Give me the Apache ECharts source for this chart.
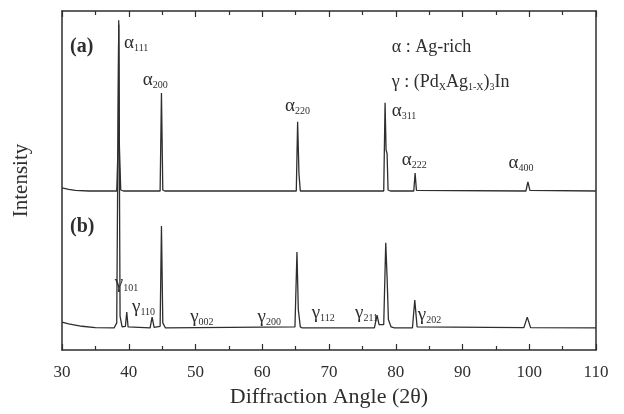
<!DOCTYPE html>
<html>
<head>
<meta charset="utf-8">
<script src="https://cdn.jsdelivr.net/npm/echarts@6/dist/echarts.min.js"></script>
<style>
  html, body { margin: 0; padding: 0; background: #fff; }
  #main { width: 624px; height: 414px; }
</style>
</head>
<body>
<div id="main"></div>
<script>
// x ticks
var xTicks = [30, 40, 50, 60, 70, 80, 90, 100, 110];

// trace (a), offset upwards: [2theta, intensity]
var traceA = [
    [30, 47.8], [31, 47.4], [32, 47.1], [34, 46.9], [38.2, 46.9], [38.4, 60], [38.5, 97.3], [38.6, 60], [38.8, 47.2], [39.2, 46.9],
    [44.7, 46.9], [44.9, 75.8], [45.1, 47.2], [45.4, 46.9],
    [65.1, 46.9], [65.3, 67.3], [65.5, 52], [65.7, 46.9],
    [78.2, 46.9], [78.4, 72.9], [78.55, 59], [78.7, 58], [78.85, 47.2], [79.2, 46.9],
    [82.7, 46.9], [82.9, 52.2], [83.1, 47.1],
    [99.5, 46.9], [99.8, 49.6], [100.1, 47.1], [110, 46.9]
];

// trace (b)
var traceB = [
    [30, 8.2], [31, 7.7], [33, 7.0], [35, 6.6], [37.8, 6.5], [38.2, 8], [38.5, 96], [38.7, 10], [39.0, 6.8], [39.5, 7], [39.7, 11.2], [39.9, 6.8],
    [43.2, 6.5], [43.5, 9.7], [43.8, 6.7], [44.7, 7], [44.9, 36.6], [45.1, 8], [45.5, 6.5],
    [64.9, 6.8], [65.2, 28.9], [65.4, 12], [65.7, 6.8], [66, 6.5],
    [76.8, 6.5], [77.2, 10.3], [77.5, 7.5], [78.2, 7.5], [78.5, 31.6], [78.7, 21.5], [78.9, 9], [79.3, 6.8], [79.8, 6.5],
    [82.5, 6.5], [82.85, 14.7], [83.2, 6.8],
    [99.2, 6.6], [99.7, 9.7], [100.2, 6.6], [110, 6.5]
];

// peak labels: [letter, index, 2theta, intensity]
var alphaLabels = [
    ['α', '111', 39.3, 90.5],
    ['α', '200', 42.1, 79.6],
    ['α', '220', 63.4, 72],
    ['α', '311', 79.4, 70.5],
    ['α', '222', 80.9, 56],
    ['α', '400', 96.9, 55.2]
];
var gammaLabels = [
    ['γ', '101', 37.9, 19.8],
    ['γ', '110', 40.5, 12.7],
    ['γ', '002', 49.2, 9.7],
    ['γ', '200', 59.3, 9.7],
    ['γ', '112', 67.4, 10.9],
    ['γ', '211', 73.9, 10.9],
    ['γ', '202', 83.3, 10.3]
];
// panel tags and phase key
var textLabels = [
    ['{t|(a)}', 31.2, 89.4],
    ['{t|(b)}', 31.2, 36.3],
    ['{k|α : Ag-rich}', 79.4, 89.4],
    ['{k|γ : (Pd}{s|X}{k|Ag}{s|1-X}{k|)}{s|3}{k|In}', 79.4, 79]
];

var myChart = echarts.init(document.getElementById('main'));

var serif = '"Liberation Serif", "DejaVu Serif", serif';
var ink = '#2e2e2e';

var peakPoints = alphaLabels.concat(gammaLabels).map(function (d) {
    return {value: [d[2], d[3]], label: {formatter: '{g|' + d[0] + '}{s|' + d[1] + '}'}};
});
var textPoints = textLabels.map(function (d) {
    return {value: [d[1], d[2]], label: {formatter: d[0]}};
});

var rich = {
    g: {fontFamily: serif, fontSize: 19, color: ink},
    s: {fontFamily: serif, fontSize: 10, color: ink, padding: [11, 0, 0, 0]},
    t: {fontFamily: serif, fontSize: 20, fontWeight: 'bold', color: ink},
    k: {fontFamily: serif, fontSize: 18, color: ink}
};

var tickStyle = {color: ink, width: 1.2};

var option = {
    backgroundColor: '#fff',
    animation: false,
    grid: {left: 62, right: 28, top: 11, bottom: 64},
    xAxis: [
        {
            type: 'value',
            min: 30,
            max: 110,
            interval: 10,
            name: 'Diffraction Angle (2θ)',
            nameLocation: 'middle',
            nameGap: 33,
            nameTextStyle: {fontFamily: serif, fontSize: 22, color: ink},
            axisLine: {onZero: false, lineStyle: {color: ink, width: 1.5}},
            axisTick: {inside: true, length: 6, lineStyle: tickStyle},
            minorTick: {show: true, splitNumber: 2, length: 4, lineStyle: tickStyle},
            axisLabel: {fontFamily: serif, fontSize: 17, color: ink, margin: 14,
                formatter: function (v) { return xTicks.indexOf(v) >= 0 ? v : ''; }},
            splitLine: {show: false}
        },
        {
            type: 'value',
            position: 'top',
            min: 30,
            max: 110,
            interval: 10,
            axisLine: {onZero: false, lineStyle: {color: ink, width: 1.5}},
            axisTick: {show: true, inside: true, length: 6, lineStyle: tickStyle},
            minorTick: {show: true, splitNumber: 2, length: 4, lineStyle: tickStyle},
            axisLabel: {show: false},
            splitLine: {show: false}
        }
    ],
    yAxis: [
        {
            type: 'value',
            min: 0,
            max: 100,
            name: 'Intensity',
            nameLocation: 'middle',
            nameGap: 30,
            nameTextStyle: {fontFamily: serif, fontSize: 21, color: ink},
            axisLine: {show: true, onZero: false, lineStyle: {color: ink, width: 1.5}},
            axisTick: {show: false},
            axisLabel: {show: false},
            splitLine: {show: false}
        },
        {
            type: 'value',
            position: 'right',
            min: 0,
            max: 100,
            axisLine: {show: true, onZero: false, lineStyle: {color: ink, width: 1.5}},
            axisTick: {show: false},
            axisLabel: {show: false},
            splitLine: {show: false}
        }
    ],
    series: [
        {
            name: '(a)',
            type: 'line',
            data: traceA,
            showSymbol: false,
            lineStyle: {color: ink, width: 1.3}
        },
        {
            name: '(b)',
            type: 'line',
            data: traceB,
            showSymbol: false,
            lineStyle: {color: ink, width: 1.3}
        },
        {
            name: 'labels',
            type: 'scatter',
            symbolSize: 0,
            itemStyle: {opacity: 1},
            data: peakPoints.concat(textPoints),
            label: {
                show: true,
                color: ink,
                position: [0, 0],
                align: 'left',
                verticalAlign: 'middle',
                rich: rich
            },
            z: 5
        }
    ]
};

myChart.setOption(option);
</script>
</body>
</html>
